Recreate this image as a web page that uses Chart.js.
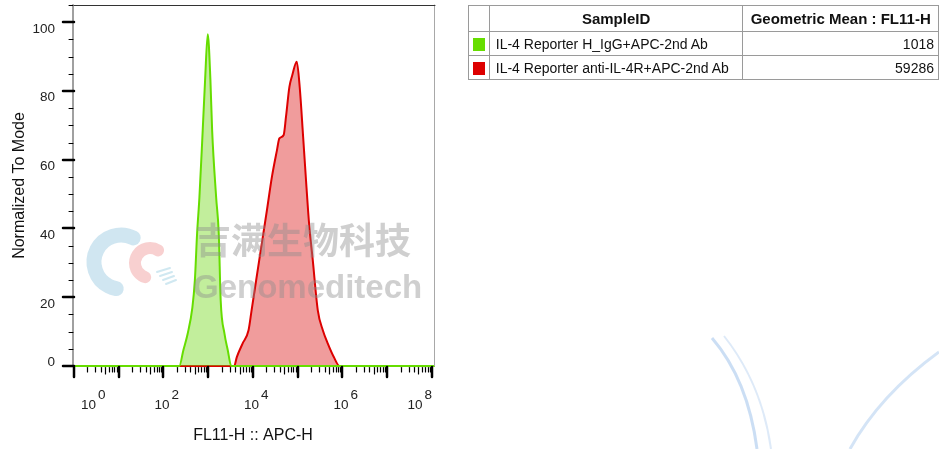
<!DOCTYPE html>
<html>
<head>
<meta charset="utf-8">
<script src="https://cdn.jsdelivr.net/npm/chart.js@4/dist/chart.umd.min.js"></script>
<style>
  body { margin: 0; background: #fff; font-family: "Liberation Sans", Arial, sans-serif; }
  #wrap { position: relative; width: 939px; height: 449px; overflow: hidden; }
  #chart { position: absolute; left: 0; top: 0; }
  #stats { position: absolute; left: 468px; top: 5px; border-collapse: collapse; table-layout: fixed; color: #111; }
  #stats td, #stats th { border: 1px solid #9a9a9a; padding: 0; white-space: nowrap; overflow: hidden; }
  #stats th { font-weight: bold; font-size: 15px; height: 25px; text-align: center; }
  #stats td { font-size: 14px; height: 23px; }
  #stats td.name { padding-left: 6px; }
  #stats td.num { text-align: right; padding-right: 4px; }
  #stats td.sw { text-align: center; }
  #stats td.sw span { display: inline-block; width: 12px; height: 13px; vertical-align: middle; }
  #deco { position: absolute; left: 0; top: 0; pointer-events: none; }
</style>
</head>
<body>
<div id="wrap">
  <svg id="deco" width="939" height="449">
    <path d="M712,338 Q748,380 757,449" fill="none" stroke="rgba(160,195,235,0.55)" stroke-width="3"/>
    <path d="M724,336 Q762,384 771,449" fill="none" stroke="rgba(160,195,235,0.35)" stroke-width="2"/>
    <path d="M850,449 Q880,395 939,352" fill="none" stroke="rgba(160,195,235,0.45)" stroke-width="3"/>
  </svg>
  <canvas id="chart" width="939" height="449"></canvas>
  <table id="stats">
    <colgroup><col style="width:21px"><col style="width:254px"><col style="width:196px"></colgroup>
    <tbody id="statsBody"></tbody>
  </table>
</div>
<script>
// histogram values (FL11-H channel value, % of mode)
var greenX = [226, 278, 347, 442, 503, 564, 635, 753, 851, 975, 1119, 1222, 1504, 1718, 1900, 2307, 2735, 3260];
var greenY = [0, 4.6, 9.4, 17, 25, 38.6, 49, 68.6, 83.2, 96.5, 83.2, 68.6, 49, 38.6, 19, 9.4, 4.6, 0];

var redX = [3810, 4350, 5850, 7960, 9310, 13800, 20500, 26500, 34400, 38900, 48500, 54700, 65200, 75300,
            95100, 111000, 132000, 157000, 177000, 217000, 281000, 364000, 471000, 641000, 861000];
var redY = [0, 2.6, 6.5, 10.4, 16.2, 30.8, 45.3, 55, 62.8, 66.2, 67.2, 72.5, 81.2, 84.5,
            88.5, 81, 66.7, 52, 42.4, 30.8, 16.2, 10.4, 6.5, 2.6, 0];

var sampleIds = ['IL-4 Reporter H_IgG+APC-2nd Ab', 'IL-4 Reporter anti-IL-4R+APC-2nd Ab'];
var geoMeans = [1018, 59286];
var sampleColors = ['#66dd00', '#dd0000'];
var sampleFills = ['rgba(110,215,20,0.42)', 'rgba(220,30,30,0.44)'];

var xMin = 1, xMax = 1.17e8;
var yMax = 105;
var xDecades = [0, 1, 2, 3, 4, 5, 6, 7, 8];
var xLabelDecades = [0, 2, 4, 6, 8];
var yLabels = [0, 20, 40, 60, 80, 100];

function toPoints(xs, ys) {
    var pts = [{ x: xMin, y: 0 }];
    for (var i = 0; i < xs.length; i++) pts.push({ x: xs[i], y: ys[i] });
    pts.push({ x: xMax, y: 0 });
    return pts;
}

// table
var body = document.getElementById('statsBody');
var html = '<tr><th></th><th>SampleID</th><th>Geometric Mean : FL11-H</th></tr>';
for (var i = 0; i < sampleIds.length; i++) {
    html += '<tr><td class="sw"><span style="background:' + sampleColors[i] + '"></span></td>' +
            '<td class="name">' + sampleIds[i] + '</td><td class="num">' + geoMeans[i] + '</td></tr>';
}
body.innerHTML = html;

var axisPlugin = {
    id: 'flowAxes',
    afterDatasetsDraw: function (chart) {
        var ctx = chart.ctx, a = chart.chartArea;
        var xs = chart.scales.x, ys = chart.scales.y;
        ctx.save();

        // watermark
        ctx.globalAlpha = 0.45;
        ctx.lineCap = 'round';
        ctx.strokeStyle = 'rgb(150,200,225)';
        ctx.lineWidth = 15;
        ctx.beginPath();
        ctx.arc(121, 262, 27, -1.1, 1.75, true);
        ctx.stroke();
        ctx.strokeStyle = 'rgb(240,150,150)';
        ctx.lineWidth = 12;
        ctx.beginPath();
        ctx.arc(150, 263, 15, -1.0, 1.9, true);
        ctx.stroke();
        ctx.strokeStyle = 'rgb(150,205,225)';
        ctx.lineWidth = 2;
        for (var k = 0; k < 4; k++) {
            ctx.beginPath();
            ctx.moveTo(157 + k * 3, 272 + k * 4);
            ctx.lineTo(170 + k * 2, 268 + k * 4);
            ctx.stroke();
        }
        ctx.globalAlpha = 1;
        ctx.fillStyle = 'rgba(140,140,140,0.42)';
        ctx.font = 'bold 36px "Noto Sans CJK SC"';
        ctx.textBaseline = 'middle';
        ctx.textAlign = 'left';
        ctx.fillText('吉满生物科技', 195, 240);
        ctx.font = 'bold 33px "Liberation Sans"';
        ctx.textBaseline = 'alphabetic';
        ctx.fillText('Genomeditech', 193, 298);

        // frame
        ctx.lineWidth = 1;
        ctx.strokeStyle = '#a8a8a8';
        ctx.beginPath();
        ctx.moveTo(a.right - 0.5, a.top);
        ctx.lineTo(a.right - 0.5, a.bottom);
        ctx.stroke();
        ctx.strokeStyle = '#333';
        ctx.beginPath();
        ctx.moveTo(a.left - 4, a.top + 0.5);
        ctx.lineTo(a.right, a.top + 0.5);
        ctx.stroke();
        ctx.strokeStyle = '#a0a0a0';
        ctx.lineWidth = 2;
        ctx.beginPath();
        ctx.moveTo(a.left - 1, a.top);
        ctx.lineTo(a.left - 1, a.bottom - 1);
        ctx.stroke();

        // y ticks
        ctx.strokeStyle = '#000';
        for (var v = 0; v <= yMax; v += 5) {
            var py = Math.round(ys.getPixelForValue(v));
            var major = v % 20 === 0;
            ctx.lineWidth = major ? 2.5 : 1;
            ctx.beginPath();
            ctx.moveTo(a.left - (major ? 11 : 5), py + (major ? 0 : 0.5));
            ctx.lineTo(a.left - (major ? 0 : 1), py + (major ? 0 : 0.5));
            ctx.stroke();
        }
        ctx.fillStyle = '#222';
        ctx.font = '13.5px "Liberation Sans"';
        ctx.textAlign = 'right';
        yLabels.forEach(function (v) {
            var py = ys.getPixelForValue(v);
            ctx.textBaseline = v === 0 ? 'alphabetic' : 'top';
            ctx.fillText(String(v), 55, py);
        });

        // x ticks
        xDecades.forEach(function (d) {
            var px = Math.round(xs.getPixelForValue(Math.pow(10, d)));
            ctx.lineWidth = 2.5;
            ctx.beginPath();
            ctx.moveTo(px, a.bottom + 1);
            ctx.lineTo(px, a.bottom + 11);
            ctx.stroke();
            if (d === 8) return;
            for (var m = 2; m <= 9; m++) {
                var mx = Math.round(xs.getPixelForValue(m * Math.pow(10, d))) + 0.5;
                ctx.lineWidth = 1.2;
                ctx.beginPath();
                ctx.moveTo(mx, a.bottom + 1.5);
                ctx.lineTo(mx, a.bottom + (m === 5 ? 8 : 6));
                ctx.stroke();
            }
        });

        // x labels: 10 with raised exponent
        ctx.textAlign = 'left';
        ctx.textBaseline = 'alphabetic';
        xLabelDecades.forEach(function (d) {
            var px = xs.getPixelForValue(Math.pow(10, d));
            var wBase = ctx.measureText('10').width;
            var wExp = ctx.measureText(String(d)).width;
            var left = px - 9;
            if (left < 81) left = 81;
            if (left + wBase + 2 + wExp > a.right - 3) left = a.right - 3 - wBase - 2 - wExp;
            ctx.fillText('10', left, 408.5);
            ctx.fillText(String(d), left + wBase + 2, 399);
        });

        // titles
        ctx.font = '16px "Liberation Sans"';
        ctx.textAlign = 'center';
        ctx.fillStyle = '#111';
        ctx.fillText('FL11-H :: APC-H', 253, 439.5);
        ctx.translate(23.5, (a.top + a.bottom) / 2);
        ctx.rotate(-Math.PI / 2);
        ctx.fillText('Normalized To Mode', 0, 0);
        ctx.restore();
    }
};

new Chart(document.getElementById('chart'), {
    type: 'line',
    data: {
        datasets: [
            {
                label: sampleIds[0],
                data: toPoints(greenX, greenY),
                borderColor: sampleColors[0],
                backgroundColor: sampleFills[0],
                borderWidth: 2,
                fill: 'origin',
                pointRadius: 0,
                cubicInterpolationMode: 'monotone',
                clip: 3
            },
            {
                label: sampleIds[1],
                data: toPoints(redX, redY),
                borderColor: sampleColors[1],
                backgroundColor: sampleFills[1],
                borderWidth: 2,
                fill: 'origin',
                pointRadius: 0,
                cubicInterpolationMode: 'monotone',
                clip: 3
            }
        ]
    },
    options: {
        responsive: false,
        animation: false,
        layout: { padding: { left: 74, right: 504, top: 5, bottom: 83 } },
        plugins: { legend: { display: false }, tooltip: { enabled: false } },
        scales: {
            x: { type: 'logarithmic', min: xMin, max: xMax, display: false },
            y: { type: 'linear', min: 0, max: yMax, display: false }
        }
    },
    plugins: [axisPlugin]
});
</script>
</body>
</html>
